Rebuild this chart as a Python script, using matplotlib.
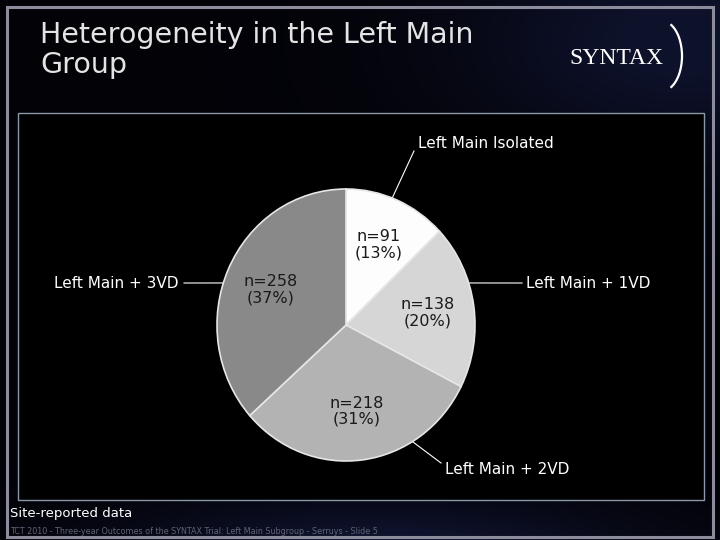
import numpy as np
import matplotlib.pyplot as plt
from matplotlib.patches import Rectangle, Arc

# data
groups = ["Left Main Isolated", "Left Main + 1VD", "Left Main + 2VD", "Left Main + 3VD"]
counts = [91, 138, 218, 258]
percents = [13, 20, 31, 37]
slice_colors = ["#fdfdfd", "#d6d6d6", "#b3b3b3", "#898989"]

title = "Heterogeneity in the Left Main\nGroup"
note = "Site-reported data"
footer = "TCT 2010 - Three-year Outcomes of the SYNTAX Trial: Left Main Subgroup - Serruys - Slide 5"

W, H = 720, 540
fig = plt.figure(figsize=(7.2, 5.4), dpi=100)

# background in pixel coords
bg = fig.add_axes([0, 0, 1, 1])
bg.set_xlim(0, W)
bg.set_ylim(H, 0)
bg.axis("off")

yy, xx = np.mgrid[0:H, 0:W]
glow1 = np.exp(-(((xx - 380) / 260.0) ** 2 + ((yy - 560) / 60.0) ** 2))
glow2 = np.exp(-(((xx - 680) / 220.0) ** 2 + ((yy - 40) / 120.0) ** 2))
g = np.clip(0.55 * glow1 + 0.45 * glow2, 0, 1)
img = np.zeros((H, W, 3))
img[..., 0] = 0.01 + 0.10 * g
img[..., 1] = 0.01 + 0.14 * g
img[..., 2] = 0.03 + 0.32 * g
bg.imshow(img, extent=(0, W, H, 0), aspect="auto", zorder=0)

# slide frame and chart panel
bg.add_patch(Rectangle((7, 7), 706, 530, fill=False, edgecolor="#8c8c9c", lw=2.2, zorder=1))
bg.add_patch(Rectangle((18, 113), 686, 387, facecolor="black", edgecolor="#8a98a8", lw=1, zorder=1))

bg.text(40, 50, title, color="#e4e4e4", fontsize=20.5, family="DejaVu Sans",
        va="center", ha="left", linespacing=1.12, zorder=3)

# SYNTAX logo
bg.text(616, 58, "SYNTAX", color="white", fontsize=17, family="Liberation Serif",
        va="center", ha="center", zorder=3)
bg.add_patch(Arc((662, 56), 40, 70, theta1=-75, theta2=75, color="white", lw=1.6, zorder=3))

bg.text(10, 514, note, color="white", fontsize=9.5, va="center", ha="left", zorder=3)
bg.text(10, 531, footer, color="#5e6474", fontsize=5.8, va="center", ha="left", zorder=3)

# pie
cx, cy, rx, ry = 346, 325, 129, 136
ax = fig.add_axes([(cx - rx) / W, 1 - (cy + ry) / H, 2 * rx / W, 2 * ry / H])
wedges, _ = ax.pie(counts, colors=slice_colors, startangle=90, counterclock=False,
                   wedgeprops=dict(edgecolor="#e6e6e6", linewidth=1.2))
ax.set_aspect("auto")
ax.set_xlim(-1, 1)
ax.set_ylim(-1, 1)
ax.axis("off")

for w, n, p in zip(wedges, counts, percents):
    mid = np.deg2rad((w.theta1 + w.theta2) / 2)
    ax.text(0.64 * np.cos(mid), 0.64 * np.sin(mid), "n=%d\n(%d%%)" % (n, p),
            ha="center", va="center", fontsize=11.5, color="#1a1a1a", linespacing=1.1)

# outside labels with leader lines (edge angle, text position in pixels)
label_spots = [(69, (418, 143), "left"), (18, (526, 283), "left"),
               (-59, (445, 469), "left"), (162, (178, 283), "right")]
for name, (ang, (tx, ty), ha) in zip(groups, label_spots):
    a = np.deg2rad(ang)
    ex = cx + rx * np.cos(a)
    ey = cy - ry * np.sin(a)
    if ha == "left":
        lx = tx - 4
    else:
        lx = tx + 6
    ly = ty + 8 if name == "Left Main Isolated" else ty
    if name == "Left Main + 2VD":
        lx, ly = tx - 4, ty - 6
    bg.plot([ex, lx], [ey, ly], color="white", lw=0.8, zorder=4)
    bg.text(tx, ty, name, color="white", fontsize=11, ha=ha, va="center", zorder=4)

fig.savefig("out.png", dpi=100, facecolor="black")
